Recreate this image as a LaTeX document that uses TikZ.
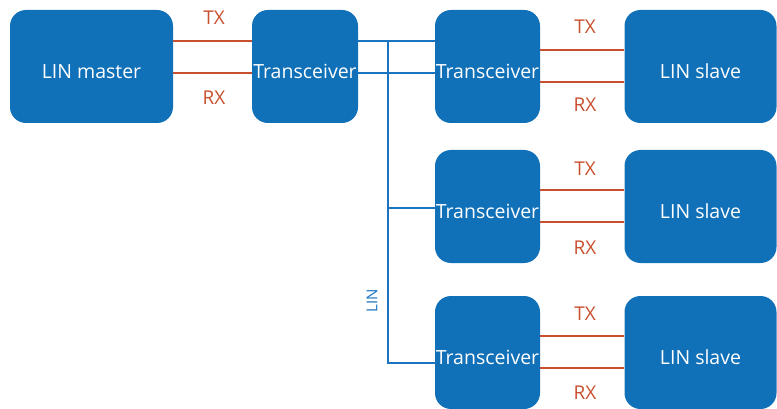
\documentclass[tikz,border=0pt]{standalone}
\usepackage{fontspec}
\setmainfont{Open Sans}
\definecolor{boxblue}{HTML}{1070B8}
\definecolor{linered}{HTML}{C8502E}
\definecolor{busblue}{HTML}{1A74C0}
\begin{document}
\begin{tikzpicture}[x=1pt,y=-1pt,
  blk/.style={draw=none,fill=boxblue,rounded corners=16pt,text=white,
    font=\fontsize{19.5}{22}\selectfont,text height=24pt,text depth=0pt,
    minimum height=113pt,inner sep=0pt,anchor=center},
  sig/.style={draw=linered,line width=2.2pt},
  bus/.style={draw=busblue,line width=2.2pt},
  siglbl/.style={text=linered,font=\fontsize{19}{22}\selectfont,inner sep=0pt},
  buslbl/.style={text=busblue,font=\fontsize{15}{18}\selectfont,inner sep=0pt}]
\useasboundingbox (0,0) rectangle (777,409);
\node[blk,minimum width=163pt] (master) at (91.5,66.5) {LIN master};
\node[blk,minimum width=106pt] (tr1) at (305,66.5) {Transceiver};
\node[blk,minimum width=105pt] (tr2) at (487.5,66.5) {Transceiver};
\node[blk,minimum width=105pt] (tr3) at (487.5,206.5) {Transceiver};
\node[blk,minimum width=105pt] (tr4) at (487.5,352.5) {Transceiver};
\node[blk,minimum width=152pt] (s1) at (700.5,66.5) {LIN slave};
\node[blk,minimum width=152pt] (s2) at (700.5,206.5) {LIN slave};
\node[blk,minimum width=152pt] (s3) at (700.5,352.5) {LIN slave};
% master side
\draw[sig] ([yshift=25.5pt]master.east) -- ([yshift=25.5pt]tr1.west);
\draw[sig] ([yshift=-6.5pt]master.east) -- ([yshift=-6.5pt]tr1.west);
\node[siglbl] (tx0) at (214,18) {TX};
\node[siglbl] (rx0) at (214,98) {RX};
% slave sides
\foreach \t/\s in {tr2/s1,tr3/s2,tr4/s3}{
  \draw[sig] ([yshift=16.5pt]\t.east) -- ([yshift=16.5pt]\s.west);
  \draw[sig] ([yshift=-15.5pt]\t.east) -- ([yshift=-15.5pt]\s.west);
}
\node[siglbl] (tx1) at (585,27) {TX};
\node[siglbl] (rx1) at (585,105) {RX};
\node[siglbl] (tx2) at (585,169) {TX};
\node[siglbl] (rx2) at (585,248) {RX};
\node[siglbl] (tx3) at (585,314) {TX};
\node[siglbl] (rx3) at (585,393) {RX};
% bus
\coordinate (btop) at (388,41);
\coordinate (bmid) at (388,208);
\coordinate (bbot) at (388,363);
\draw[bus] ([yshift=25.5pt]tr1.east) -- ([yshift=25.5pt]tr2.west);
\draw[bus] ([yshift=-6.5pt]tr1.east) -- ([yshift=-6.5pt]tr2.west);
\draw[bus] (btop) -- (bbot) -- (tr4.west |- bbot);
\draw[bus] (bmid) -- (tr3.west |- bmid);
\node[buslbl,rotate=90] (lin) at (372,301) {LIN};
\end{tikzpicture}
\end{document}
